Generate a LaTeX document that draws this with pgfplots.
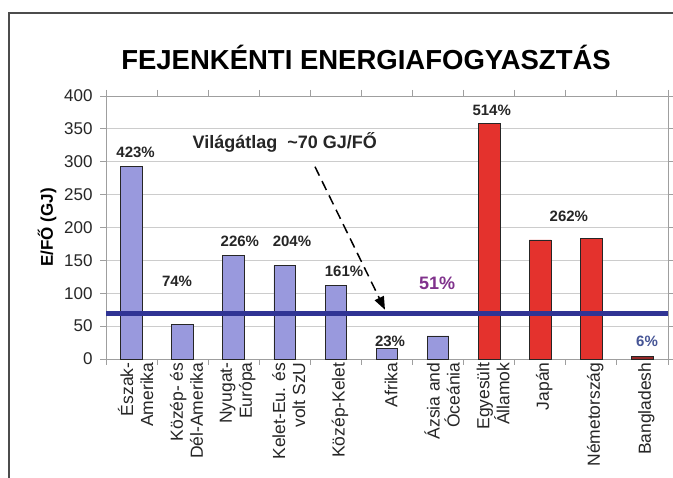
\documentclass[border=0pt]{standalone}
\usepackage{fontspec}
\setmainfont{Liberation Sans}
\usepackage{pgfplots}
\pgfplotsset{compat=1.18}
\usetikzlibrary{arrows.meta}

\definecolor{barblue}{RGB}{153,153,221}
\definecolor{barred}{RGB}{228,50,45}
\definecolor{bardark}{RGB}{150,40,40}
\definecolor{avgline}{RGB}{48,52,148}
\definecolor{pctpurple}{RGB}{128,50,140}
\definecolor{pctblue}{RGB}{70,85,150}

\begin{document}
\begin{tikzpicture}
\useasboundingbox (0,0) rectangle (673pt,478pt);
\fill[white] (0,0) rectangle (673pt,478pt);
% outer frame (only top and left are visible)
\draw[line width=2pt, gray!60!black] (9pt,-5pt) -- (9pt,465pt) -- (680pt,465pt);
\node[font=\bfseries\fontsize{27.5}{30}\selectfont] at (366pt,421pt) {FEJENKÉNTI ENERGIAFOGYASZTÁS};

\begin{axis}[
  scale only axis, width=562pt, height=263pt,
  anchor=south west, at={(106pt,119pt)},
  xmin=-0.5, xmax=10.5, ymin=0, ymax=400,
  ytick={0,50,...,400},
  xtick={-0.5,0.5,...,10.5}, xticklabels={},
  extra x ticks={0,1,2,3,4,5,6,7,8,9,10},
  extra x tick labels={{Észak-\\Amerika},{Közép- és\\Dél-Amerika},{Nyugat-\\Európa},{Kelet-Eu. és\\volt SzU},{Közép-Kelet},{Afrika},{Ázsia and\\Óceánia},{Egyesült\\Államok},{Japán},{Németország},{Bangladesh}},
  extra x tick style={major tick length=0pt, grid=none,
    tick label style={rotate=90, anchor=east, align=right,
      font=\fontsize{17.5}{20}\selectfont, text=black!85, yshift=-4pt}},
  ymajorgrids, major grid style={draw=gray!40, line width=0.8pt},
  axis line style={draw=gray!75, line width=0.9pt},
  tick style={draw=gray!75, line width=0.9pt},
  tick align=outside, major tick length=6pt,
  yticklabel style={font=\fontsize{17}{20}\selectfont, text=black!85, xshift=-4pt},
  /pgf/number format/assume math mode=true,
  ylabel={E/FŐ (GJ)},
  ylabel style={font=\bfseries\fontsize{17}{20}\selectfont, at={(axis description cs:-0.105,0.5)}, anchor=center},
  clip=false,
]
% regions
\addplot[ybar, bar width=21.7pt, bar shift=0pt, fill=barblue, draw=black!85, line width=0.9pt]
  coordinates {(0,293) (1,52) (2,157) (3,142) (4,112) (5,16) (6,35)};
% countries
\addplot[ybar, bar width=21.7pt, bar shift=0pt, fill=barred, draw=black!85, line width=0.9pt]
  coordinates {(7,358) (8,181) (9,183)};
\addplot[ybar, bar width=21.7pt, bar shift=0pt, fill=bardark, draw=black!85, line width=0.9pt]
  coordinates {(10,4)};
% world average
\addplot[avgline, line width=5pt] coordinates {(-0.5,69) (10.5,69)};

\begin{scope}[every node/.style={font=\bfseries\fontsize{15}{18}\selectfont, text=black!85}]
\node at (axis cs:0.08,315) {423\%};
\node at (axis cs:0.89,118) {74\%};
\node at (axis cs:2.12,179) {226\%};
\node at (axis cs:3.14,179) {204\%};
\node at (axis cs:4.16,133) {161\%};
\node at (axis cs:5.06,27) {23\%};
\node at (axis cs:7.05,378) {514\%};
\node at (axis cs:8.56,217) {262\%};
\node[text=pctblue] at (axis cs:10.09,27) {6\%};
\end{scope}
\node[font=\bfseries\fontsize{18}{20}\selectfont, text=pctpurple] at (axis cs:5.98,114.5) {51\%};
\node[font=\bfseries\fontsize{18}{20}\selectfont, text=black!85] at (axis cs:3.0,330) {Világátlag\ \ \textasciitilde70 GJ/FŐ};
\draw[line width=1.5pt, dash pattern=on 10pt off 6pt, -{Triangle[length=13pt,width=10pt]}]
  (axis cs:3.59,292.5) -- (axis cs:4.96,75);
\end{axis}
\end{tikzpicture}
\end{document}
